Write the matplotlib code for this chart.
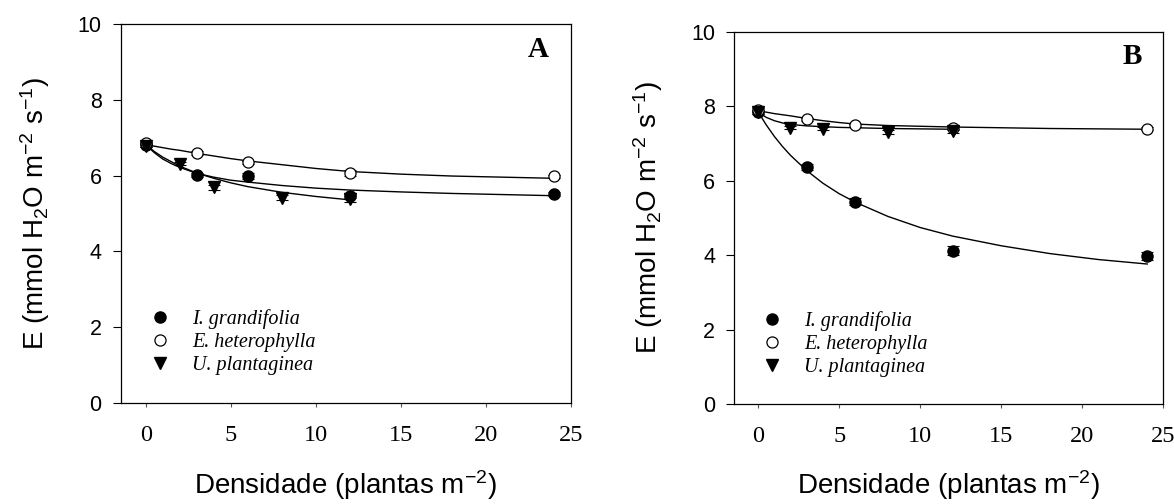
import matplotlib
matplotlib.use('Agg')
import matplotlib.pyplot as plt

plt.rcParams['font.family'] = ['Liberation Sans', 'DejaVu Sans']
plt.rcParams['mathtext.fontset'] = 'custom'
plt.rcParams['mathtext.rm'] = 'Liberation Sans'
plt.rcParams['mathtext.default'] = 'regular'

# densidades
dens = [0, 3, 6, 12, 24]
dens_up = [0, 2, 4, 8, 12]

# painel A
ig_a = [6.82, 6.02, 5.99, 5.47, 5.51]
ig_a_err = [0.05, 0.06, 0.08, 0.07, 0.05]
eh_a = [6.85, 6.60, 6.35, 6.07, 5.99]
eh_a_err = [0.04, 0.05, 0.05, 0.07, 0.04]
up_a = [6.79, 6.32, 5.69, 5.42, 5.38]
up_a_err = [0.04, 0.05, 0.06, 0.06, 0.08]

# painel B
ig_b = [7.85, 6.36, 5.43, 4.12, 3.98]
ig_b_err = [0.06, 0.08, 0.09, 0.13, 0.10]
eh_b = [7.90, 7.65, 7.49, 7.42, 7.40]
eh_b_err = [0.05, 0.04, 0.04, 0.05, 0.04]
up_b = [7.83, 7.42, 7.40, 7.30, 7.33]
up_b_err = [0.05, 0.04, 0.04, 0.05, 0.05]

# curvas ajustadas
xc = [0, 0.5, 1, 1.5, 2, 3, 4, 5, 6, 8, 10, 12, 15, 18, 21, 24]
xc_up = [0, 0.5, 1, 1.5, 2, 3, 4, 5, 6, 8, 10, 12]
ig_a_fit = [6.82, 6.61, 6.44, 6.32, 6.22, 6.06, 5.96, 5.88, 5.83, 5.74, 5.67, 5.62, 5.57, 5.53, 5.50, 5.47]
eh_a_fit = [6.82, 6.78, 6.74, 6.70, 6.67, 6.59, 6.52, 6.45, 6.39, 6.29, 6.19, 6.11, 6.04, 5.99, 5.96, 5.93]
up_a_fit = [6.82, 6.64, 6.49, 6.37, 6.25, 6.07, 5.93, 5.81, 5.71, 5.56, 5.45, 5.36]
ig_b_fit = [7.85, 7.50, 7.19, 6.92, 6.68, 6.27, 5.93, 5.65, 5.42, 5.04, 4.74, 4.51, 4.25, 4.04, 3.88, 3.76]
eh_b_fit = [7.88, 7.84, 7.80, 7.77, 7.74, 7.67, 7.61, 7.56, 7.52, 7.48, 7.46, 7.44, 7.42, 7.40, 7.39, 7.38]
up_b_fit = [7.84, 7.70, 7.61, 7.55, 7.51, 7.47, 7.45, 7.43, 7.42, 7.40, 7.39, 7.38]

labels = ['I. grandifolia', 'E. heterophylla', 'U. plantaginea']
ylabel = 'E (mmol H$_2$O m$^{-2}$ s$^{-1}$)'
xlabel = 'Densidade (plantas m$^{-2}$)'

fig = plt.figure(figsize=(11.74, 5.04), dpi=100)
ax_a = fig.add_axes([0.1028, 0.201, 0.3836, 0.7508])
ax_b = fig.add_axes([0.6254, 0.1984, 0.3656, 0.7387])


def painel(ax, ig, ig_err, eh, eh_err, up, up_err, ig_fit, eh_fit, up_fit,
           letra, ylab_x, xlab_y, leg_anchor):
    ax.plot(xc, eh_fit, color='black', lw=1.0, zorder=2)
    ax.plot(xc, ig_fit, color='black', lw=1.0, zorder=2)
    ax.plot(xc_up, up_fit, color='black', lw=1.0, zorder=2)

    for xs, ys, es in [(dens, ig, ig_err), (dens, eh, eh_err), (dens_up, up, up_err)]:
        ax.errorbar(xs, ys, yerr=es, fmt='none', ecolor='black', elinewidth=0.8,
                    capsize=4, capthick=0.8, zorder=3)

    h1, = ax.plot(dens, ig, 'o', color='black', ms=8, zorder=4)
    h2, = ax.plot(dens, eh, 'o', mfc='white', mec='black', mew=0.9, ms=8, zorder=4)
    h3, = ax.plot(dens_up, up, 'v', color='black', ms=8.5, zorder=4)

    ax.set_xlim(-1.47, 25)
    ax.set_ylim(0, 10)
    ax.set_xticks([0, 5, 10, 15, 20, 25])
    ax.set_yticks([0, 2, 4, 6, 8, 10])
    ax.tick_params(axis='y', direction='out', length=5.8, width=0.8, pad=8, labelsize=15.5)
    ax.tick_params(axis='x', direction='out', length=3, width=0.8, pad=13, labelsize=17.5,
                   color='#555555')
    for t in ax.get_xticklabels():
        t.set_fontfamily('Liberation Serif')
    for sp in ax.spines.values():
        sp.set_linewidth(0.9)

    ax.set_ylabel(ylabel, fontsize=20, va='center')
    ax.yaxis.set_label_coords(ylab_x, 0.5)
    ax.set_xlabel(xlabel, fontsize=20)
    ax.xaxis.set_label_coords(0.5, xlab_y)

    ax.text(0.928, 0.933, letra, transform=ax.transAxes, ha='center', va='center',
            fontsize=21, fontweight='bold', family='Liberation Serif')

    ax.legend([h1, h2, h3], labels, loc='upper left', bbox_to_anchor=leg_anchor,
              frameon=False, handlelength=1.0, handletextpad=1.1, labelspacing=0.2,
              borderpad=0, borderaxespad=0,
              prop={'family': 'Liberation Serif', 'style': 'italic', 'size': 14.5})


painel(ax_a, ig_a, ig_a_err, eh_a, eh_a_err, up_a, up_a_err,
       ig_a_fit, eh_a_fit, up_a_fit, 'A', -0.19, -0.172, (0.064, 0.248))
painel(ax_b, ig_b, ig_b_err, eh_b, eh_b_err, up_b, up_b_err,
       ig_b_fit, eh_b_fit, up_b_fit, 'B', -0.2, -0.172, (0.065, 0.25))

fig.savefig('out.png', dpi=100)
